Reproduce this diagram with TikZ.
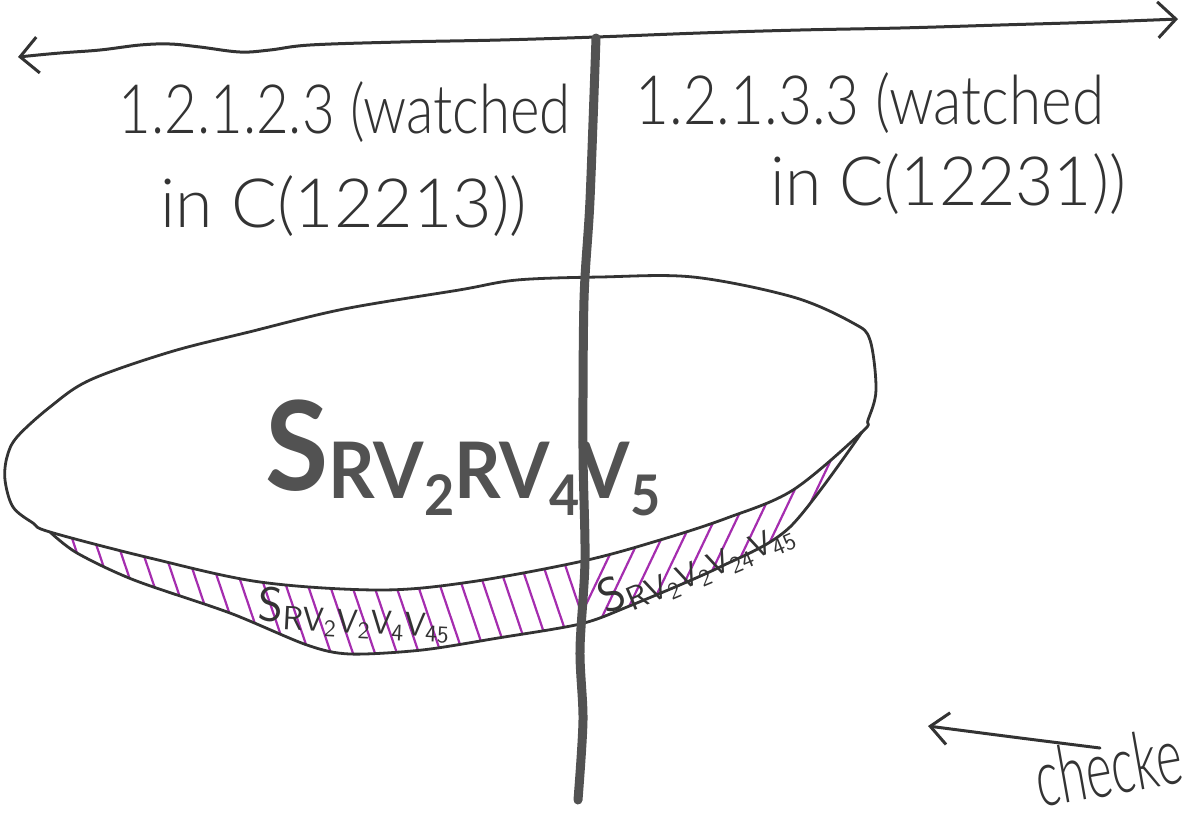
\documentclass[tikz,border=0pt]{standalone}
\usepackage{fontspec}
\setmainfont{Lato Light}
\newfontfamily\markerfont{Lato}
\usetikzlibrary{arrows.meta}
\definecolor{hatchpurple}{RGB}{165,45,175}
\newcommand{\subdig}[1]{\raisebox{-8.5pt}{\fontsize{28}{28}\selectfont #1}}

\begin{document}
\begin{tikzpicture}
% Sketch traced in pixels of the scan, y pointing down
\def\px{0.5pt}
\providecommand{\sketchInk}{black!80}
\providecommand{\sketchMarker}{black!68}
\providecommand{\sketchLineWidth}{1.4pt}
\providecommand{\sketchCutWidth}{4.5pt}
\providecommand{\sketchHatchWidth}{1.1pt}
\tikzset{
  hand/.style={text=\sketchInk, inner sep=0pt, font=\fontsize{34}{40}\selectfont},
  outline/.style={draw=\sketchInk, line width=\sketchLineWidth},
  hatch/.style={draw=hatchpurple, line width=\sketchHatchWidth},
  barb/.style={draw=\sketchInk, line width=1.5pt, {Straight Barb[length=9pt,width=18pt]}-{Straight Barb[length=9pt,width=18pt]}},
}
\begin{scope}[x=\px, y=-\px, line cap=round, line join=round]
  % Page
  \useasboundingbox (0,0) rectangle (1184,816);
  \clip (0,0) rectangle (1184,816);
  % Time axis on top
  \coordinate (axisL) at (18,57);
  \coordinate (axisR) at (1178,19);
  \draw[barb] plot[smooth, tension=0.6] coordinates {(axisL) (60,53) (100,50) (140,45) (170,44) (200,47) (240,52) (270,50) (310,45) (400,42) (500,40) (596,37) (700,33) (800,30) (900,28) (1000,25) (1100,22) (axisR)};
  % Hatched band, left part
  \begin{scope}
    \clip plot[smooth] coordinates {(50,532) (150,558) (260,582) (380,590) (470,582) (583,561) (660,540) (727,518) (793,490) (862,432)}
      -- plot[smooth] coordinates {(862,432) (790,527) (720,567) (627,607) (580,624) (498,638) (422,650) (350,654) (307,645) (230,613) (134,580) (77,553) (50,532)} -- cycle;
    \clip (0,0) rectangle (583,816);
    \foreach \x in {-100,-78,...,620}
      \draw[hatch] (\x,420) -- ++(88,260);
  \end{scope}
  % Hatched band, right part
  \begin{scope}
    \clip plot[smooth] coordinates {(50,532) (150,558) (260,582) (380,590) (470,582) (583,561) (660,540) (727,518) (793,490) (862,432)}
      -- plot[smooth] coordinates {(862,432) (790,527) (720,567) (627,607) (580,624) (498,638) (422,650) (350,654) (307,645) (230,613) (134,580) (77,553) (50,532)} -- cycle;
    \clip (583,0) rectangle (1184,816);
    \foreach \x in {440,462,...,900}
      \draw[hatch] (\x,680) -- ++(124,-260);
  \end{scope}
  % Set outline and lower edge of the band
  \draw[outline] plot[smooth cycle, tension=0.55] coordinates {(50,532) (33,523) (13,507) (5,480) (7,457) (17,437) (50,407) (90,380) (170,352) (249,332) (344,309) (459,290) (517,280) (600,277) (693,277) (793,297) (853,323) (870,340) (876,390) (868,420) (862,432) (793,490) (727,518) (660,540) (583,561) (470,582) (380,590) (260,582) (150,558)};
  \draw[outline] plot[smooth] coordinates {(50,532) (77,553) (134,580) (230,613) (307,645) (350,654) (422,650) (498,638) (580,624) (627,607) (720,567) (790,527) (862,432)};
  % Labels inside the set
  \node[text=\sketchMarker, inner sep=0pt, anchor=base west, font=\markerfont\bfseries\fontsize{62}{62}\selectfont] (setLabel) at (265,490)
    {\scalebox{0.93}[1]{S\raisebox{-4pt}{\fontsize{39}{39}\selectfont RV\subdig{2}RV\subdig{4}V\subdig{5}}}};
  \node[text=\sketchInk, inner sep=0pt, rotate=-3, font=\fontsize{24}{24}\selectfont] (bandLeft) at (355,615) {$\mathsf{S_{RV_2V_2V_4V_{45}}}$};
  \node[text=\sketchInk, inner sep=0pt, rotate=23, font=\fontsize{24}{24}\selectfont] (bandRight) at (697,565) {$\mathsf{S_{RV_2V_2V_{24}V_{45}}}$};
  % Cut between the two states
  \coordinate (cutTop) at (596,38);
  \coordinate (cutBot) at (578,800);
  \draw[draw=\sketchMarker, line width=\sketchCutWidth] plot[smooth] coordinates {(cutTop) (590,200) (584,300) (583,450) (585,560) (580,650) (583,720) (cutBot)};
  % State headings
  \node[hand, anchor=base west] (leftOne) at (118,133) {\scalebox{0.83}[1]{1.2.1.2.3 (watched}};
  \node[hand, anchor=base west] (leftTwo) at (160,227) {\scalebox{1.0}[1]{in C(12213))}};
  \node[hand, anchor=base west] (rightOne) at (635,124) {\scalebox{0.86}[1]{1.2.1.3.3 (watched}};
  \node[hand, anchor=base west] (rightTwo) at (770,205) {\scalebox{0.97}[1]{in C(12231))}};
  % Checked marker
  \coordinate (chkStart) at (1100,748);
  \coordinate (chkEnd) at (928,726);
  \draw[draw=\sketchInk, line width=1.5pt, -{Straight Barb[length=9pt,width=16pt]}] (chkStart) .. controls (1020,738) .. (chkEnd);
  \node[hand, anchor=base west, rotate=10, font=\fontsize{40}{40}\selectfont] (checked) at (1040,808) {\scalebox{0.62}[1]{checked}};
\end{scope}
\end{tikzpicture}
\end{document}
